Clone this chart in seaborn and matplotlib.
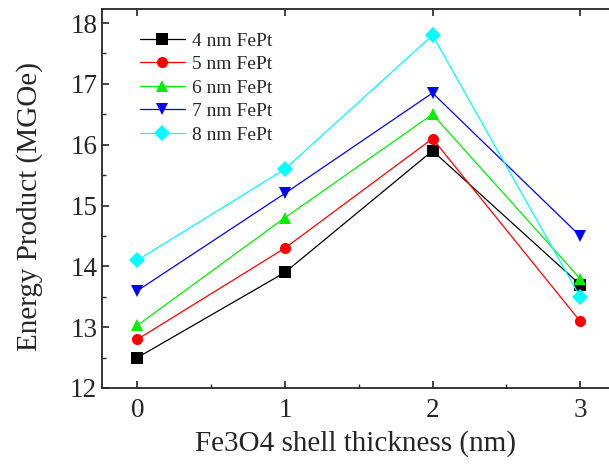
import pandas as pd
import matplotlib
matplotlib.use("Agg")
import matplotlib.pyplot as plt
import seaborn as sns
from matplotlib.ticker import MultipleLocator

sns.set_style("ticks")
plt.rcParams['font.family'] = ['Liberation Serif', 'DejaVu Serif']
plt.rcParams['mathtext.fontset'] = 'stix'

# data
thickness = [0, 1, 2, 3]
series_names = ["4 nm FePt", "5 nm FePt", "6 nm FePt", "7 nm FePt", "8 nm FePt"]
fept_4 = [12.5, 13.9, 15.9, 13.7]
fept_5 = [12.8, 14.3, 16.1, 13.1]
fept_6 = [13.03, 14.8, 16.5, 13.8]
fept_7 = [13.6, 15.2, 16.85, 14.5]
fept_8 = [14.1, 15.6, 17.8, 13.5]
colors = ["black", "red", "#00ee00", "blue", "cyan"]
markers = ["s", "o", "^", "v", "D"]

rows = []
for name, vals in zip(series_names, [fept_4, fept_5, fept_6, fept_7, fept_8]):
    for t, v in zip(thickness, vals):
        rows.append({"thickness": t, "energy": v, "sample": name})
df = pd.DataFrame(rows)

fig = plt.figure(figsize=(6.09, 4.65), dpi=100)
ax = fig.add_axes([0.1675, 0.1656, 0.8325, 0.815])

sns.lineplot(
    data=df, x="thickness", y="energy", hue="sample", style="sample",
    palette=dict(zip(series_names, colors)),
    markers=dict(zip(series_names, markers)),
    dashes=False, markersize=8, linewidth=0.9, markeredgewidth=0,
    ax=ax
)

ax.set_xlim(-0.24, 3.196)
ax.set_ylim(12, 18.23)
ax.xaxis.set_major_locator(MultipleLocator(1))
ax.xaxis.set_minor_locator(MultipleLocator(0.5))
ax.yaxis.set_major_locator(MultipleLocator(1))
ax.yaxis.set_minor_locator(MultipleLocator(0.5))
ax.tick_params(which="both", direction="in", labelsize=19.5, top=True, right=False)
ax.tick_params(which="major", length=5, width=1.2)
ax.tick_params(which="minor", length=3, width=1.0)
ax.tick_params(axis="x", which="minor", top=False)
ax.tick_params(axis="x", pad=7)
for s in ax.spines.values():
    s.set_linewidth(1.3)
ax.spines["right"].set_visible(False)

ax.set_xlabel("Fe3O4 shell thickness (nm)", fontsize=21, labelpad=5)
ax.set_ylabel("Energy Product (MGOe)", fontsize=21)
ax.yaxis.set_label_coords(-0.117, 0.48)

ax.legend(loc="upper left", bbox_to_anchor=(0.04, 0.985), frameon=False,
          fontsize=14, handlelength=2.3, handletextpad=0.4,
          labelspacing=0.3, title=None)

fig.savefig("out.png", dpi=100)
